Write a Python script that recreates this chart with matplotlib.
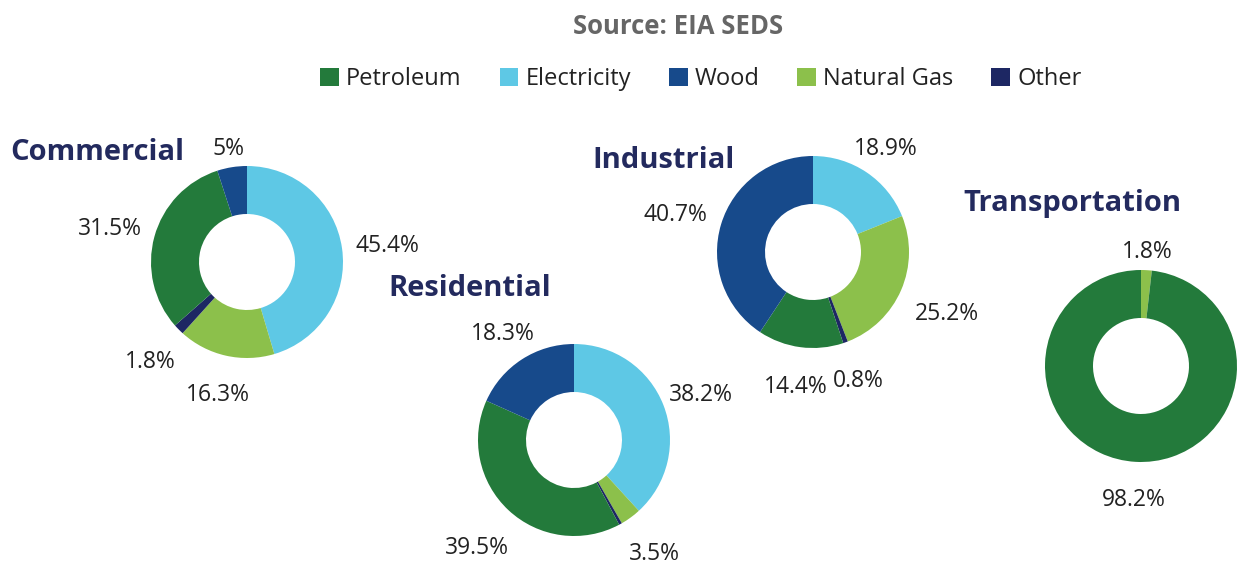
import numpy as np
import matplotlib
matplotlib.use("Agg")
import matplotlib.pyplot as plt
from matplotlib.patches import Patch

plt.rcParams['font.family'] = ['Open Sans', 'DejaVu Sans']

# data: share of energy use by source, per sector (percent)
sources = ['Petroleum', 'Electricity', 'Wood', 'Natural Gas', 'Other']
slice_order = ['Electricity', 'Natural Gas', 'Other', 'Petroleum', 'Wood']  # clockwise from 12 o'clock
sectors = ['Commercial', 'Residential', 'Industrial', 'Transportation']
commercial = [45.4, 16.3, 1.8, 31.5, 5.0]
residential = [38.2, 3.5, 0.5, 39.5, 18.3]
industrial = [18.9, 25.2, 0.8, 14.4, 40.7]
transportation = [0.0, 1.8, 0.0, 98.2, 0.0]
commercial_labels = ['45.4%', '16.3%', '1.8%', '31.5%', '5%']
residential_labels = ['38.2%', '3.5%', '', '39.5%', '18.3%']
industrial_labels = ['18.9%', '25.2%', '0.8%', '14.4%', '40.7%']
transportation_labels = ['', '1.8%', '', '98.2%', '']

colors = {'Petroleum': '#237a3b', 'Electricity': '#5ec8e5', 'Wood': '#174a8b',
          'Natural Gas': '#8cc04b', 'Other': '#1d2763'}
navy = '#232a5e'

W, H = 1237, 564
fig = plt.figure(figsize=(W / 100, H / 100), dpi=100)
ax = fig.add_axes([0, 0, 1, 1])

# layout in pixel units (y measured from top)
layout = {
    'Commercial':     dict(c=(247, 262), title=(10, 152), lab=[1.48, 1.38, 1.42, 1.48, 1.23]),
    'Residential':    dict(c=(574, 440), title=(388, 289), lab=[1.42, 1.42, 1.4, 1.48, 1.36]),
    'Industrial':     dict(c=(813, 252), title=(592, 160), lab=[1.35, 1.52, 1.38, 1.38, 1.5]),
    'Transportation': dict(c=(1141, 366), title=(963, 203), lab=[1.3, 1.23, 1.3, 1.36, 1.3]),
}
radius = 96
vals = dict(zip(sectors, [commercial, residential, industrial, transportation]))
labs = dict(zip(sectors, [commercial_labels, residential_labels, industrial_labels, transportation_labels]))

for s in sectors:
    cx, cy = layout[s]['c']
    cy = H - cy
    v = vals[s]
    ax.pie(v, colors=[colors[k] for k in slice_order], center=(cx, cy), radius=radius,
           startangle=90, counterclock=False, wedgeprops=dict(width=radius * 0.5, linewidth=0))
    # percentage labels outside each slice
    total = sum(v)
    cum = 0
    for val, lab, d in zip(v, labs[s], layout[s]['lab']):
        mid = (cum + val / 2) / total
        cum += val
        if not lab:
            continue
        ang = np.deg2rad(90 - 360 * mid)
        ax.text(cx + d * radius * np.cos(ang), cy + d * radius * np.sin(ang) - 4, lab,
                ha='center', va='center', fontsize=16.5, color='#222222')
    tx, ty = layout[s]['title']
    ax.text(tx, H - ty, s, ha='left', va='center', fontsize=21, fontweight='bold', color=navy)

ax.set_xlim(0, W)
ax.set_ylim(0, H)
ax.set_aspect('equal')
ax.axis('off')

fig.text(678 / W, 1 - 27 / H, 'Source: EIA SEDS', ha='center', va='center',
         fontsize=18.5, fontweight='bold', color='#666666')

handles = [Patch(facecolor=colors[k], edgecolor='none') for k in sources]
fig.legend(handles, sources, loc='center', bbox_to_anchor=(701 / W, 1 - 79 / H), ncol=5,
           frameon=False, fontsize=17, handlelength=0.8, handleheight=0.8,
           handletextpad=0.3, columnspacing=1.6, labelcolor='#222222')

fig.savefig('out.png', dpi=100, facecolor='white')
